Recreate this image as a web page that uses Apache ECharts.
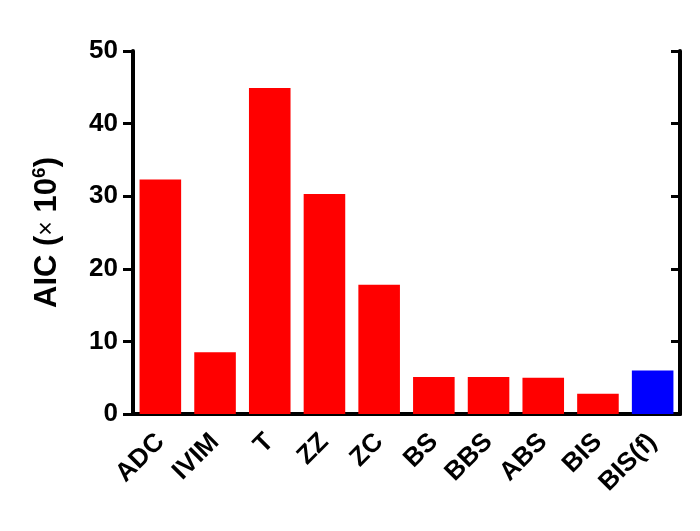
<!DOCTYPE html>
<html><head><meta charset="utf-8">
<script src="https://cdn.jsdelivr.net/npm/echarts@6/dist/echarts.min.js"></script>
<style>html,body{margin:0;padding:0;background:#fff}#c{width:700px;height:531px}</style>
</head><body><div id="c"></div>
<script>
const categories = ['ADC','IVIM','T','ZZ','ZC','BS','BBS','ABS','BIS','BIS(f)'];
const values = [32.3, 8.5, 44.9, 30.3, 17.8, 5.1, 5.1, 5.0, 2.8, 6.0];
const barColors = ['#ff0000','#ff0000','#ff0000','#ff0000','#ff0000','#ff0000','#ff0000','#ff0000','#ff0000','#0000ff'];
const yTicks = [0,10,20,30,40,50];

const chart = echarts.init(document.getElementById('c'));
const font = 'Liberation Sans, Arial, sans-serif';
const lineStyle = {color:'#000', width:4};
chart.setOption({
  animation:false,
  grid:{left:133, right:20, top:51, bottom:117},
  xAxis:[{
    type:'category', data:categories, position:'bottom',
    axisLine:{lineStyle:lineStyle},
    axisTick:{alignWithLabel:true, length:10, lineStyle:{color:'#000', width:3}},
    axisLabel:{rotate:45, margin:24, color:'#000', fontWeight:'bold', fontSize:26, fontFamily:font, interval:0}
  },{
    type:'category', data:categories, position:'top',
    axisLine:{lineStyle:lineStyle},
    axisTick:{alignWithLabel:true, inside:true, length:9, lineStyle:{color:'#000', width:3}},
    axisLabel:{show:false}
  }],
  yAxis:[{
    type:'value', min:yTicks[0], max:yTicks[yTicks.length-1], interval:10, position:'left',
    splitLine:{show:false},
    axisLine:{show:true, lineStyle:lineStyle},
    axisTick:{show:true, length:10, lineStyle:{color:'#000', width:3}},
    axisLabel:{margin:15, color:'#000', fontWeight:'bold', fontSize:26, fontFamily:font},
    name:'{a|AIC (}{x|×}{a| 10}{s|6}{a|)}', nameLocation:'middle', nameGap:69, nameRotate:90,
    nameTextStyle:{rich:{
      a:{fontSize:31, fontWeight:'bold', fontFamily:font, color:'#000'},
      x:{fontSize:25, fontWeight:'normal', fontFamily:font, color:'#000'},
      s:{fontSize:19, fontWeight:'bold', fontFamily:font, color:'#000', verticalAlign:'top', padding:[0,0,15,0]}
    }}
  },{
    type:'value', min:yTicks[0], max:yTicks[yTicks.length-1], interval:10, position:'right',
    splitLine:{show:false},
    axisLine:{show:true, lineStyle:lineStyle},
    axisTick:{show:true, inside:true, length:9, lineStyle:{color:'#000', width:3}},
    axisLabel:{show:false}
  }],
  series:[{
    type:'bar', xAxisIndex:0, yAxisIndex:0,
    data: values.map((v,i)=>({value:v, itemStyle:{color:barColors[i]}})),
    barCategoryGap:'24%'
  }]
});
</script></body></html>
